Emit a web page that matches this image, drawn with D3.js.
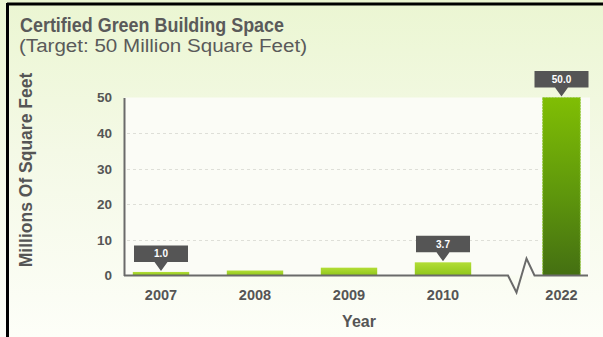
<!DOCTYPE html>
<html>
<head>
<meta charset="utf-8">
<script src="https://cdn.jsdelivr.net/npm/d3@7"></script>
<style>
  html, body { margin: 0; padding: 0; background: #ffffff; }
  svg { display: block; font-family: "Liberation Sans", Arial, sans-serif; }
</style>
</head>
<body>
<svg id="chart" width="603" height="337"></svg>
<script>
// Certified green building space, millions of square feet
const years = ["2007", "2008", "2009", "2010"];
const values = [1.0, 1.4, 2.2, 3.7];
const targetYear = ["2022"];
const targetValue = [50.0];
const labelledYears = ["2007", "2010", "2022"];
const yTicks = [0, 10, 20, 30, 40, 50];

const title = "Certified Green Building Space";
const subtitle = "(Target: 50 Million Square Feet)";
const yTitle = "Millions Of Square Feet";
const xTitle = "Year";

const W = 603, H = 337;
const plot = { left: 124, right: 590, top: 97.5, bottom: 275.5 };

const svg = d3.select("#chart");
const defs = svg.append("defs");

const bg = defs.append("linearGradient").attr("id", "bg").attr("x1", 0).attr("y1", 0).attr("x2", 0).attr("y2", 1);
bg.append("stop").attr("offset", "0%").attr("stop-color", "#ebf6d2");
bg.append("stop").attr("offset", "45%").attr("stop-color", "#f4f9e6");
bg.append("stop").attr("offset", "100%").attr("stop-color", "#fdfef8");

const small = defs.append("linearGradient").attr("id", "barSmall").attr("x1", 0).attr("y1", 0).attr("x2", 0).attr("y2", 1);
small.append("stop").attr("offset", "0%").attr("stop-color", "#b2dd36");
small.append("stop").attr("offset", "100%").attr("stop-color", "#8fc61a");

const big = defs.append("linearGradient").attr("id", "barBig").attr("x1", 0).attr("y1", 0).attr("x2", 0).attr("y2", 1);
big.append("stop").attr("offset", "0%").attr("stop-color", "#80be04");
big.append("stop").attr("offset", "55%").attr("stop-color", "#5e960c");
big.append("stop").attr("offset", "100%").attr("stop-color", "#446f12");

// background and frame
svg.append("rect").attr("width", W).attr("height", H).attr("fill", "url(#bg)");
svg.append("rect")
  .attr("x", plot.left).attr("y", plot.top)
  .attr("width", plot.right - plot.left).attr("height", plot.bottom - plot.top)
  .attr("fill", "#fbfcf6");
svg.append("line").attr("x1", 7).attr("x2", W).attr("y1", 4).attr("y2", 4)
  .attr("stroke", "#000").attr("stroke-width", 3);
svg.append("line").attr("x1", 7.5).attr("x2", 7.5).attr("y1", 3).attr("y2", H)
  .attr("stroke", "#000").attr("stroke-width", 3);

// scales
const y = d3.scaleLinear().domain([0, 50]).range([plot.bottom, plot.top]);
const x = d3.scaleBand().domain(years).range([114, 490]).paddingInner(0.4).paddingOuter(0.2);
const xT = d3.scaleBand().domain(targetYear).range([540, 583]).paddingOuter(0.07);
const xAll = d => years.includes(d) ? x(d) : xT(d);
const bw = d => years.includes(d) ? x.bandwidth() : xT.bandwidth();

// dashed gridlines
svg.append("g").selectAll("line")
  .data(yTicks.filter(t => t > 0 && t < 50))
  .join("line")
  .attr("x1", plot.left + 3).attr("x2", 538)
  .attr("y1", d => Math.round(y(d)) + 0.5).attr("y2", d => Math.round(y(d)) + 0.5)
  .attr("stroke", "#dedfd8").attr("stroke-width", 1).attr("stroke-dasharray", "3,3");

// y axis
const yAxis = d3.axisLeft(y).tickValues(yTicks).tickSize(0).tickPadding(12).tickFormat(d3.format("d"));
const gy = svg.append("g").attr("transform", `translate(${plot.left},0)`).call(yAxis);
gy.select(".domain").attr("stroke", "#6a6a6a").attr("stroke-width", 2);
gy.selectAll("text").attr("fill", "#555").attr("font-size", 13.5).attr("font-weight", "bold")
  .attr("font-family", "Liberation Sans, Arial, sans-serif");

// bars
const all = years.map((yr, i) => ({ year: yr, value: values[i], big: false }))
  .concat(targetYear.map((yr, i) => ({ year: yr, value: targetValue[i], big: true })));

svg.append("g").selectAll("rect")
  .data(all)
  .join("rect")
  .attr("x", d => xAll(d.year))
  .attr("width", d => bw(d.year))
  .attr("y", d => y(d.value))
  .attr("height", d => y(0) - y(d.value))
  .attr("fill", d => d.big ? "url(#barBig)" : "url(#barSmall)")
  .attr("stroke", d => d.big ? "#9ccd4a" : "none")
  .attr("stroke-width", 1)
  .attr("stroke-dasharray", "2,1");

// x baseline with break marker
const zig = d3.line();
const bx = [508, 516.5, 526.5, 534.5];
svg.append("path")
  .attr("d", zig([[plot.left, y(0)], [bx[0], y(0)], [bx[1], y(0) + 17], [bx[2], y(0) - 17], [bx[3], y(0)], [plot.right - 2, y(0)]]))
  .attr("fill", "none").attr("stroke", "#6a6a6a").attr("stroke-width", 2).attr("stroke-linejoin", "miter");

// category labels
svg.append("g").selectAll("text")
  .data(all)
  .join("text")
  .attr("x", d => xAll(d.year) + bw(d.year) / 2)
  .attr("y", 299.5)
  .attr("text-anchor", "middle")
  .attr("font-size", 14.5).attr("font-weight", "bold").attr("fill", "#555")
  .text(d => d.year);

// value call-outs
const tips = svg.append("g").selectAll("g")
  .data(all.filter(d => labelledYears.includes(d.year)))
  .join("g")
  .attr("transform", d => `translate(${xAll(d.year) + bw(d.year) / 2},${y(d.value) - 1})`);
tips.append("path")
  .attr("d", "M-27,-25.5 H27 V-9 H6.5 L0,0 L-6.5,-9 H-27 Z")
  .attr("fill", "#555");
tips.append("text")
  .attr("y", -13.5)
  .attr("text-anchor", "middle")
  .attr("font-size", 10).attr("font-weight", "bold").attr("fill", "#ffffff")
  .text(d => d3.format(".1f")(d.value));

// titles
svg.append("text").attr("x", 20).attr("y", 32)
  .attr("font-size", 19.5).attr("font-weight", "bold").attr("fill", "#5a5a5a")
  .attr("textLength", 264).attr("lengthAdjust", "spacingAndGlyphs")
  .text(title);
svg.append("text").attr("x", 19).attr("y", 52)
  .attr("font-size", 18).attr("fill", "#5a5a5a")
  .attr("textLength", 288).attr("lengthAdjust", "spacingAndGlyphs")
  .text(subtitle);
svg.append("text")
  .attr("transform", "translate(32,170) rotate(-90)")
  .attr("text-anchor", "middle")
  .attr("font-size", 17.5).attr("font-weight", "bold").attr("fill", "#555")
  .text(yTitle);
svg.append("text").attr("x", (plot.left + plot.right) / 2 + 2).attr("y", 327)
  .attr("text-anchor", "middle")
  .attr("font-size", 16).attr("font-weight", "bold").attr("fill", "#555")
  .text(xTitle);
</script>
</body>
</html>
